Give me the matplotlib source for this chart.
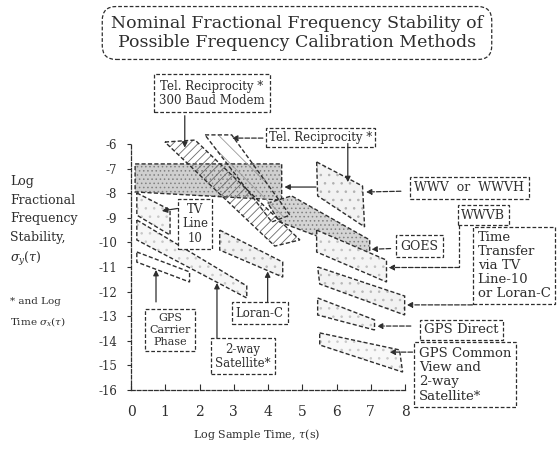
import matplotlib
matplotlib.use("Agg")
import matplotlib.pyplot as plt
from matplotlib.patches import Polygon

plt.rcParams['font.family'] = ['DejaVu Serif']
plt.rcParams['mathtext.fontset'] = 'dejavuserif'
plt.rcParams['hatch.linewidth'] = 0.6

INK = '#2e2e2e'
DASH = (0, (3, 1.6))

# stability regions, log tau (x) vs log sigma (y)
wwv_short_x = [0.12, 4.40, 4.40, 0.12]
wwv_short_y = [-6.81, -6.81, -8.28, -7.95]
wwv_long_x = [5.42, 6.76, 6.82, 5.45]
wwv_long_y = [-6.73, -7.71, -9.37, -8.11]
tel300_x = [0.99, 1.87, 4.93, 4.20]
tel300_y = [-5.92, -5.84, -9.90, -10.15]
telrec_x = [2.16, 2.94, 4.64, 4.11]
telrec_y = [-5.63, -5.63, -8.89, -9.17]
goes_x = [3.99, 4.69, 6.97, 6.97, 4.34]
goes_y = [-8.40, -8.11, -9.90, -10.55, -9.17]
wwvb_x = [5.42, 7.46, 7.46, 5.42]
wwvb_y = [-9.50, -10.72, -11.61, -10.39]
tvloran_x = [5.45, 7.99, 7.99, 5.51]
tvloran_y = [-11.00, -12.18, -12.95, -11.69]
gpsdirect_x = [5.45, 7.11, 7.11, 5.45]
gpsdirect_y = [-12.26, -13.15, -13.56, -12.95]
gpscv_x = [5.51, 7.84, 7.93, 5.51]
gpscv_y = [-13.68, -14.37, -15.27, -14.17]
tv10_x = [0.17, 1.14, 1.14, 0.17]
tv10_y = [-7.99, -8.68, -9.70, -8.89]
twoway_x = [0.17, 3.38, 3.38, 0.17]
twoway_y = [-9.09, -11.77, -12.26, -9.90]
carrier_x = [0.17, 1.71, 1.71, 0.17]
carrier_y = [-10.39, -11.20, -11.61, -10.80]
loran_x = [2.59, 4.43, 4.43, 2.59]
loran_y = [-9.50, -10.80, -11.41, -10.31]

x_ticks = [0, 1, 2, 3, 4, 5, 6, 7, 8]
y_ticks = [-6, -7, -8, -9, -10, -11, -12, -13, -14, -15, -16]

fig = plt.figure(figsize=(5.58, 4.49), dpi=100)
ax = fig.add_axes([131 / 558, 1 - 390 / 449, 274 / 558, 246 / 449])
ax.set_xlim(0, 8)
ax.set_ylim(-16, -6)
for side in ['top', 'right']:
    ax.spines[side].set_visible(False)
for side in ['left', 'bottom']:
    ax.spines[side].set_linestyle(DASH)
    ax.spines[side].set_color(INK)
    ax.spines[side].set_linewidth(0.9)
ax.set_xticks(x_ticks)
ax.set_xticklabels([str(v) for v in x_ticks])
ax.set_yticks(y_ticks)
ax.set_yticklabels([str(v) for v in y_ticks])
ax.tick_params(axis='x', direction='in', length=4, pad=11, labelsize=10, colors=INK)
ax.tick_params(axis='y', direction='out', length=3, pad=7, labelsize=8.5, colors=INK)


def region(xs, ys, face='none', hatch=None, hcol='#888888', edge=True):
    pts = list(zip(xs, ys))
    ax.add_patch(Polygon(pts, closed=True, facecolor=face, edgecolor=hcol,
                         hatch=hatch, lw=0, clip_on=False))
    if edge:
        ax.add_patch(Polygon(pts, closed=True, facecolor='none', edgecolor=INK,
                             lw=1.0, linestyle=DASH, clip_on=False))


region(wwv_short_x, wwv_short_y, face='#cfcfcf', hatch='....', hcol='#808080')
region(goes_x, goes_y, face='#d4d4d4', hatch='....', hcol='#808080')
region(tel300_x, tel300_y, hatch='////', hcol='#6a6a6a')
region(telrec_x, telrec_y, hatch='\\\\', hcol='#9a9a9a')
region(wwv_long_x, wwv_long_y, face='#f2f2f2', hatch='..', hcol='#b0b0b0')
region(wwvb_x, wwvb_y, face='#f4f4f4', hatch='..', hcol='#c0c0c0')
region(tvloran_x, tvloran_y, face='#f2f2f2', hatch='..', hcol='#b8b8b8')
region(gpsdirect_x, gpsdirect_y, face='#f6f6f6', hatch='..', hcol='#c4c4c4')
region(gpscv_x, gpscv_y, face='#f8f8f8', hatch='..', hcol='#c8c8c8')
region(tv10_x, tv10_y, face='#f6f6f6', hatch='..', hcol='#c8c8c8')
region(twoway_x, twoway_y, face='#f6f6f6', hatch='..', hcol='#c8c8c8')
region(carrier_x, carrier_y, face='none')
region(loran_x, loran_y, face='#f2f2f2', hatch='..', hcol='#b8b8b8')


def label(x, y, s, ha='center', va='center', size=8.5, ls=1.1, pad=0.35):
    ax.text(x, y, s, ha=ha, va=va, fontsize=size, color=INK, linespacing=ls,
            clip_on=False,
            bbox=dict(boxstyle='square,pad=%s' % pad, fc='white', ec=INK,
                      lw=0.9, linestyle=DASH))


def arrow(tail, tip, dashed=False):
    ax.annotate('', xy=tip, xytext=tail, annotation_clip=False,
                arrowprops=dict(arrowstyle='-|>', color=INK, lw=0.9,
                                mutation_scale=8, shrinkA=0, shrinkB=0,
                                linestyle='--' if dashed else '-'))


label(2.36, -3.93, 'Tel. Reciprocity *\n300 Baud Modem', size=8.5, pad=0.45)
arrow((1.57, -4.85), (1.57, -6.15))

label(5.54, -5.72, 'Tel. Reciprocity *', size=8.5, pad=0.25)
arrow((3.85, -5.76), (2.95, -5.76), dashed=True)
arrow((6.33, -5.98), (6.33, -7.55))

label(9.88, -7.78, 'WWV  or  WWVH', size=9)
arrow((7.88, -7.92), (6.86, -7.95), dashed=True)
arrow((5.40, -7.75), (4.48, -7.75))

label(10.29, -8.89, 'WWVB', size=9, pad=0.25)
ax.plot([9.59, 9.59], [-9.3, -11.02], color=INK, lw=0.9, linestyle=DASH,
        clip_on=False)
arrow((9.59, -11.02), (7.52, -11.02), dashed=True)

label(10.12, -9.55, 'Time\nTransfer\nvia TV\nLine-10\nor Loran-C',
      ha='left', va='top', size=9.5, ls=1.08)
arrow((9.97, -12.54), (8.05, -12.54), dashed=True)

label(8.43, -10.15, 'GOES', size=9)
arrow((7.58, -10.25), (7.02, -10.28), dashed=True)

label(9.65, -13.56, 'GPS Direct', size=9.5, pad=0.3)
arrow((8.17, -13.40), (7.18, -13.40), dashed=True)

label(8.40, -14.25, 'GPS Common\nView and\n2-way\nSatellite*',
      ha='left', va='top', size=9.5, ls=1.12)
arrow((8.22, -14.46), (7.55, -14.46), dashed=True)

label(1.87, -9.25, 'TV\nLine\n10', size=8.5, ls=1.15)
arrow((1.36, -8.62), (0.9, -8.72))

label(1.14, -13.56, 'GPS\nCarrier\nPhase', size=8, ls=1.3)
arrow((0.73, -12.42), (0.73, -11.12))

label(3.27, -14.62, '2-way\nSatellite*', size=8.5, ls=1.1)
arrow((2.51, -13.89), (2.51, -11.65))

label(3.76, -12.87, 'Loran-C', size=8.5)
arrow((3.99, -12.42), (3.99, -11.18))

fig.text(297 / 558, 1 - 33 / 449,
         'Nominal Fractional Frequency Stability of\nPossible Frequency Calibration Methods',
         ha='center', va='center', fontsize=12.5, color=INK, linespacing=1.12,
         bbox=dict(boxstyle='round,pad=0.5,rounding_size=0.8', fc='white',
                   ec=INK, lw=0.9, linestyle=DASH))

fig.text(10 / 558, 1 - 175 / 449,
         'Log\nFractional\nFrequency\nStability,\n$\\sigma_y(\\tau)$',
         ha='left', va='top', fontsize=9, color=INK, linespacing=1.55)
fig.text(10 / 558, 1 - 297 / 449, '* and Log\nTime $\\sigma_x(\\tau)$',
         ha='left', va='top', fontsize=7.5, color=INK, linespacing=1.9)
fig.text(257 / 558, 1 - 435 / 449, 'Log Sample Time, $\\tau$(s)',
         ha='center', va='center', fontsize=8, color=INK)

fig.savefig('out.png', dpi=100)
